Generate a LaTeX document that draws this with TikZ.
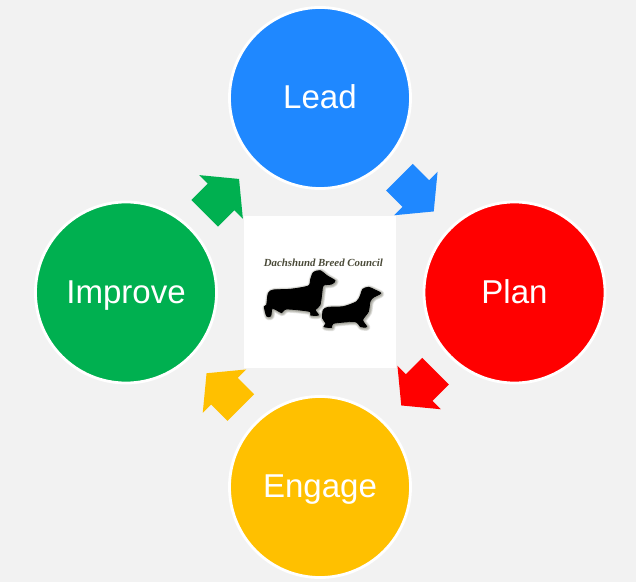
\documentclass[tikz,border=0pt]{standalone}
\usepackage{fontspec}
\setmainfont{Liberation Sans}
\newfontfamily\crestfont{Liberation Serif}
\usetikzlibrary{shapes.arrows}
\definecolor{leadblue}{HTML}{1F88FF}
\definecolor{planred}{HTML}{FF0000}
\definecolor{engageyellow}{HTML}{FFC000}
\definecolor{improvegreen}{HTML}{00B050}
\definecolor{pagegrey}{HTML}{F2F2F2}
\definecolor{crestolive}{HTML}{4A4A38}
\tikzset{
  phase/.style={circle, draw=white, line width=2pt, inner sep=0pt,
    minimum size=181*0.7113pt, text=white, text height=20pt, text depth=5.06pt,
    font=\fontsize{23.5}{28}\selectfont},
  flow/.style={single arrow, draw=none, inner xsep=0pt, inner ysep=18.5*0.7113pt,
    anchor=tip, minimum height=48.5*0.7113pt,
    single arrow head extend=12*0.7113pt, single arrow tip angle=101,
    single arrow head indent=0pt},
  glow/.style={draw=crestolive, line join=round, opacity=.14, line width=#1,
    xshift=.6pt, yshift=-.6pt},
}
\newcommand\dogBig {
  plot[smooth cycle, tension=.45] coordinates {
    (285,212) (262,198) (240,182) (220,188) (212,208) (205,228) (150,238)
    (100,240) (85,250) (80,285) (73,290) (80,318) (92,318) (96,296) (110,300)
    (125,308) (140,297) (208,304) (212,315) (235,315) (226,300) (240,285)
    (246,245) (250,226) (275,222)}
}
\newcommand\dogSmall {
  plot[smooth cycle, tension=.45] coordinates {
    (422,250) (405,240) (385,232) (368,238) (362,255) (350,275) (310,290)
    (265,292) (250,300) (248,325) (258,340) (252,350) (275,352) (280,340)
    (345,335) (362,350) (380,350) (368,330) (385,305) (390,275) (400,262)}
}

\begin{document}
\begin{tikzpicture}[x=.025cm, y=-.025cm]
  \useasboundingbox[fill=pagegrey] (0, 0) rectangle (636, 582);
  % arrows first, the square sits over them
  \node[flow, fill=leadblue, rotate=-45] (leadPlan) at (434, 211.7) {};
  \node[flow, fill=planred, rotate=-135] (planEngage) at (401, 405.7) {};
  \node[flow, fill=engageyellow, rotate=135] (engageImprove) at (206.3, 373) {};
  \node[flow, fill=improvegreen, rotate=45] (improveLead) at (239.3, 178.7) {};
  \node[phase, fill=leadblue] (lead) at (320, 98) {Lead};
  \node[phase, fill=planred] (plan) at (514.5, 292.5) {Plan};
  \node[phase, fill=engageyellow] (engage) at (320, 487) {Engage};
  \node[phase, fill=improvegreen] (improve) at (126, 292.5) {Improve};
  \fill[white] (244, 216) rectangle (396, 368);
  % logo, traced in 3x crop units
  \begin{scope}[shift={(240, 210)}, x=.025cm/3, y=-.025cm/3]
    \foreach \w in {4pt, 3pt, 2pt, 1pt} {
      \draw[glow=\w] \dogBig;
      \draw[glow=\w] \dogSmall;
    }
    \fill[black, draw=black, line width=.6pt] \dogBig;
    \fill[black, draw=black, line width=.6pt] \dogSmall;
    \node[text=crestolive, font=\crestfont\itshape\bfseries\fontsize{7.7}{9}\selectfont] (crest) at (250, 158) {Dachshund Breed Council};
  \end{scope}
\end{tikzpicture}
\end{document}
